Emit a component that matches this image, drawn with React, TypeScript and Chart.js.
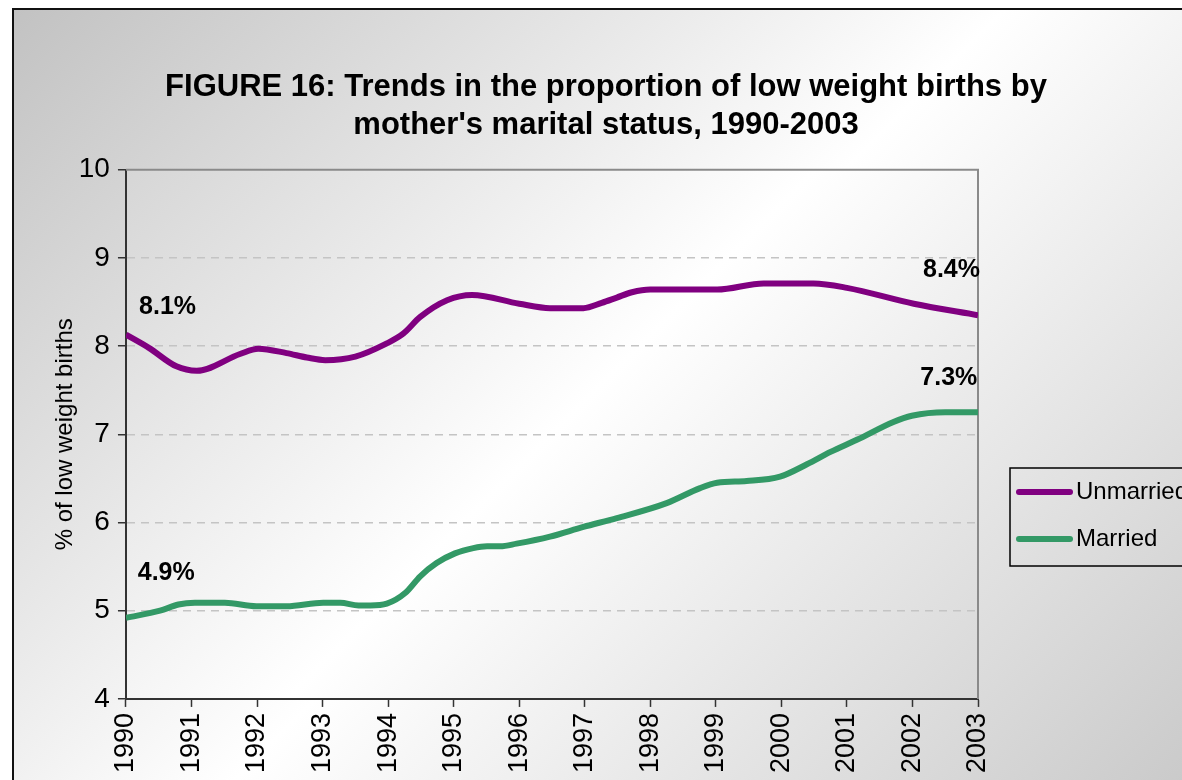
import React, { useEffect, useRef } from "react";
import { Chart, registerables } from "chart.js";

Chart.register(...registerables);

const titleLines = [
  "FIGURE 16: Trends in the proportion of low weight births by",
  "mother's marital status, 1990-2003",
];
const yAxisTitle = "% of low weight births";

const unmarriedYears = [
  1990.0, 1990.35, 1990.77, 1991.08, 1991.74, 1992.02, 1992.45, 1992.76, 1993.04, 1993.5,
  1993.98, 1994.23, 1994.49, 1994.9, 1995.28, 1996.0, 1996.47, 1996.98, 1997.26, 1997.49,
  1997.72, 1998.0, 1999.02, 1999.73, 2000.49, 2001.0, 2002.02, 2003.0,
];
const unmarriedValues = [
  8.13, 7.98, 7.77, 7.72, 7.91, 7.97, 7.92, 7.87, 7.84, 7.88,
  8.03, 8.14, 8.33, 8.52, 8.58, 8.48, 8.43, 8.43, 8.49, 8.55,
  8.61, 8.64, 8.64, 8.71, 8.71, 8.66, 8.48, 8.35,
];

const marriedYears = [
  1990.0, 1990.52, 1990.8, 1991.05, 1991.51, 1991.99, 1992.45, 1993.01, 1993.27, 1993.55,
  1993.73, 1993.98, 1994.26, 1994.49, 1994.74, 1995.02, 1995.3, 1995.51, 1995.71, 1995.96,
  1996.47, 1996.98, 1997.49, 1998.25, 1998.76, 1999.02, 1999.47, 1999.98, 2000.39, 2000.75,
  2001.16, 2001.71, 2001.99, 2002.5, 2003.0,
];
const marriedValues = [
  4.92, 5.0, 5.07, 5.09, 5.09, 5.05, 5.05, 5.09, 5.09, 5.06,
  5.06, 5.08, 5.2, 5.39, 5.54, 5.65, 5.71, 5.73, 5.73, 5.76,
  5.84, 5.95, 6.05, 6.22, 6.39, 6.45, 6.47, 6.52, 6.66, 6.8,
  6.94, 7.14, 7.21, 7.25, 7.25,
];

const seriesLabels = ["Unmarried", "Married"];
const seriesColors = ["#800080", "#339966"];

// annotation labels: text, anchor year, anchor value, alignment
const noteTexts = ["8.1%", "4.9%", "8.4%", "7.3%"];
const noteYears = [1990.2, 1990.18, 2003.03, 2002.99];
const noteValues = [8.44, 5.43, 8.86, 7.64];
const noteAligns = ["left", "left", "right", "right"];

const FONT = "'Liberation Sans', Arial, Helvetica, sans-serif";

const plotBgPlugin = {
  id: "plotBg",
  beforeDraw(chart: any) {
    const { ctx, chartArea } = chart;
    const { left, top, right, bottom } = chartArea;
    const cx = (left + right) / 2;
    const cy = (top + bottom) / 2;
    const d = (right - left + bottom - top) / 4;
    const g = ctx.createLinearGradient(cx - d, cy - d, cx + d, cy + d);
    g.addColorStop(0, "#d6d6d6");
    g.addColorStop(0.5, "#ffffff");
    g.addColorStop(1, "#d8d8d8");
    ctx.save();
    ctx.fillStyle = g;
    ctx.fillRect(left, top, right - left, bottom - top);
    ctx.restore();
  },
  beforeDatasetsDraw(chart: any) {
    const { ctx, chartArea } = chart;
    const { left, top, right, bottom } = chartArea;
    ctx.save();
    ctx.strokeStyle = "#8a8a8a";
    ctx.lineWidth = 2;
    ctx.beginPath();
    ctx.moveTo(left, top);
    ctx.lineTo(right, top);
    ctx.lineTo(right, bottom);
    ctx.stroke();
    ctx.restore();
  },
};

const notesPlugin = {
  id: "notes",
  afterDatasetsDraw(chart: any) {
    const { ctx } = chart;
    const xs = chart.scales.x;
    const ys = chart.scales.y;
    ctx.save();
    ctx.fillStyle = "#000";
    ctx.font = `bold 25px ${FONT}`;
    ctx.textBaseline = "middle";
    noteTexts.forEach((t, i) => {
      ctx.textAlign = noteAligns[i];
      ctx.fillText(t, xs.getPixelForValue(noteYears[i]), ys.getPixelForValue(noteValues[i]));
    });
    ctx.restore();
  },
};

const legendPlugin = {
  id: "boxLegend",
  afterDraw(chart: any) {
    const { ctx } = chart;
    const bx = 996;
    const by = 458;
    const bw = 240;
    const bh = 98;
    ctx.save();
    ctx.strokeStyle = "#000";
    ctx.lineWidth = 1.5;
    ctx.strokeRect(bx, by, bw, bh);
    ctx.font = `24px ${FONT}`;
    ctx.textBaseline = "middle";
    ctx.textAlign = "left";
    chart.data.datasets.forEach((ds: any, i: number) => {
      const y = by + 24 + i * 47;
      ctx.strokeStyle = ds.borderColor;
      ctx.lineWidth = 6;
      ctx.lineCap = "round";
      ctx.beginPath();
      ctx.moveTo(bx + 9, y);
      ctx.lineTo(bx + 60, y);
      ctx.stroke();
      ctx.fillStyle = "#000";
      ctx.fillText(ds.label, bx + 66, y);
    });
    ctx.restore();
  },
};

export default function App() {
  const ref = useRef<HTMLCanvasElement>(null);
  useEffect(() => {
    if (!ref.current) return;
    const chart = new Chart(ref.current, {
      type: "line",
      data: {
        datasets: [
          {
            label: seriesLabels[0],
            data: unmarriedYears.map((x, i) => ({ x, y: unmarriedValues[i] })),
            borderColor: seriesColors[0],
            backgroundColor: seriesColors[0],
            borderWidth: 6,
            pointRadius: 0,
            cubicInterpolationMode: "monotone",
            fill: false,
          },
          {
            label: seriesLabels[1],
            data: marriedYears.map((x, i) => ({ x, y: marriedValues[i] })),
            borderColor: seriesColors[1],
            backgroundColor: seriesColors[1],
            borderWidth: 6,
            pointRadius: 0,
            cubicInterpolationMode: "monotone",
            fill: false,
          },
        ],
      },
      options: {
        animation: false,
        responsive: false,
        layout: { padding: { left: 22, right: 28, top: 0, bottom: 21 } },
        plugins: {
          legend: { display: false },
          tooltip: { enabled: false },
          title: {
            display: true,
            text: titleLines,
            color: "#000",
            font: { family: FONT, size: 31, weight: "bold", lineHeight: 1.22 },
            padding: { top: 59, bottom: 25 },
          },
        },
        scales: {
          x: {
            type: "linear",
            min: 1990,
            max: 2003,
            offset: false,
            ticks: {
              stepSize: 1,
              autoSkip: false,
              maxRotation: 90,
              minRotation: 90,
              color: "#000",
              padding: 6,
              font: { family: FONT, size: 27 },
              callback: (v: any) => String(v),
            },
            grid: {
              drawOnChartArea: false,
              tickLength: 8,
              tickColor: "#333",
              tickWidth: 1.5,
            },
            border: { color: "#333", width: 2 },
          },
          y: {
            min: 4,
            max: 10,
            ticks: {
              stepSize: 1,
              color: "#000",
              padding: 8,
              font: { family: FONT, size: 28 },
            },
            grid: {
              color: (c: any) => (c.tick && (c.tick.value === 10 || c.tick.value === 4) ? "rgba(0,0,0,0)" : "#c4c4c4"),
              lineWidth: 1.5,
              tickLength: 8,
              tickColor: "#333",
              tickWidth: 1.5,
              tickBorderDash: [],
            },
            border: { color: "#333", width: 2, dash: [8, 6] },
            title: {
              display: true,
              text: yAxisTitle,
              color: "#000",
              font: { family: FONT, size: 24 },
              padding: { top: 15, bottom: -9 },
            },
          },
          yRight: {
            type: "linear",
            position: "right",
            display: true,
            ticks: { display: false },
            grid: { display: false, drawTicks: false },
            border: { display: false },
            afterFit: (s: any) => {
              s.width = 198;
            },
          },
        },
      },
      plugins: [plotBgPlugin, notesPlugin, legendPlugin],
    } as any);
    return () => chart.destroy();
  }, []);

  return (
    <div
      style={{
        position: "fixed",
        left: 12,
        top: 8,
        width: 1190,
        height: 790,
        border: "2px solid #111",
        overflow: "hidden",
        background: "linear-gradient(135deg, #c2c2c2 0%, #ffffff 50%, #c8c8c8 100%)",
      }}
    >
      <canvas ref={ref} width={1190} height={790} style={{ display: "block" }} />
    </div>
  );
}
